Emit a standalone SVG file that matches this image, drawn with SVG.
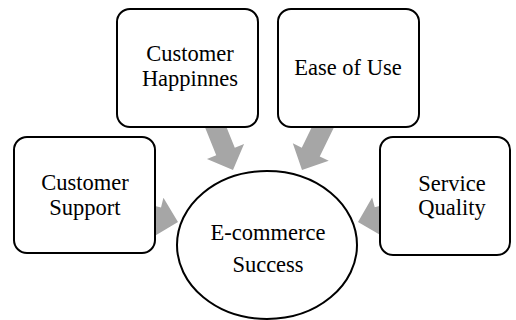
<svg xmlns="http://www.w3.org/2000/svg" width="516" height="320" viewBox="0 0 516 320">
<defs>
<style>
.box{fill:#fff;stroke:#000;stroke-width:2}
.arr{fill:#a6a6a6;stroke:none}
text{font-family:"Liberation Serif","Times New Roman",serif;font-size:22.5px;fill:#000;text-anchor:middle}
</style>
<polygon id="arrow" points="0,0 -20,-20 -20,-10 -60,-10 -60,10 -20,10 -20,20"/>
</defs>
<rect width="516" height="320" fill="#fff"/>
<g id="connectors">
<use href="#arrow" class="arr" transform="translate(178,222) rotate(14)"/>
<use href="#arrow" class="arr" transform="translate(233,170) rotate(68)"/>
<use href="#arrow" class="arr" transform="translate(302,170) rotate(116)"/>
<use href="#arrow" class="arr" transform="translate(358,222) rotate(165)"/>
</g>
<g id="customer-support">
<rect class="box" x="14" y="137" width="141" height="116" rx="13"/>
<text x="85" y="190">Customer</text>
<text x="85" y="215">Support</text>
</g>
<g id="customer-happinnes">
<rect class="box" x="117" y="9" width="141" height="118" rx="13"/>
<text x="190" y="61">Customer</text>
<text x="190" y="86">Happinnes</text>
</g>
<g id="ease-of-use">
<rect class="box" x="278" y="9" width="141" height="118" rx="13"/>
<text x="348" y="75">Ease of Use</text>
</g>
<g id="service-quality">
<rect class="box" x="380" y="137" width="130" height="118" rx="13"/>
<text x="452" y="191">Service</text>
<text x="452" y="215">Quality</text>
</g>
<g id="ecommerce-success">
<ellipse class="box" cx="267" cy="245" rx="90" ry="74"/>
<text x="268" y="240">E-commerce</text>
<text x="268" y="272">Success</text>
</g>
</svg>
